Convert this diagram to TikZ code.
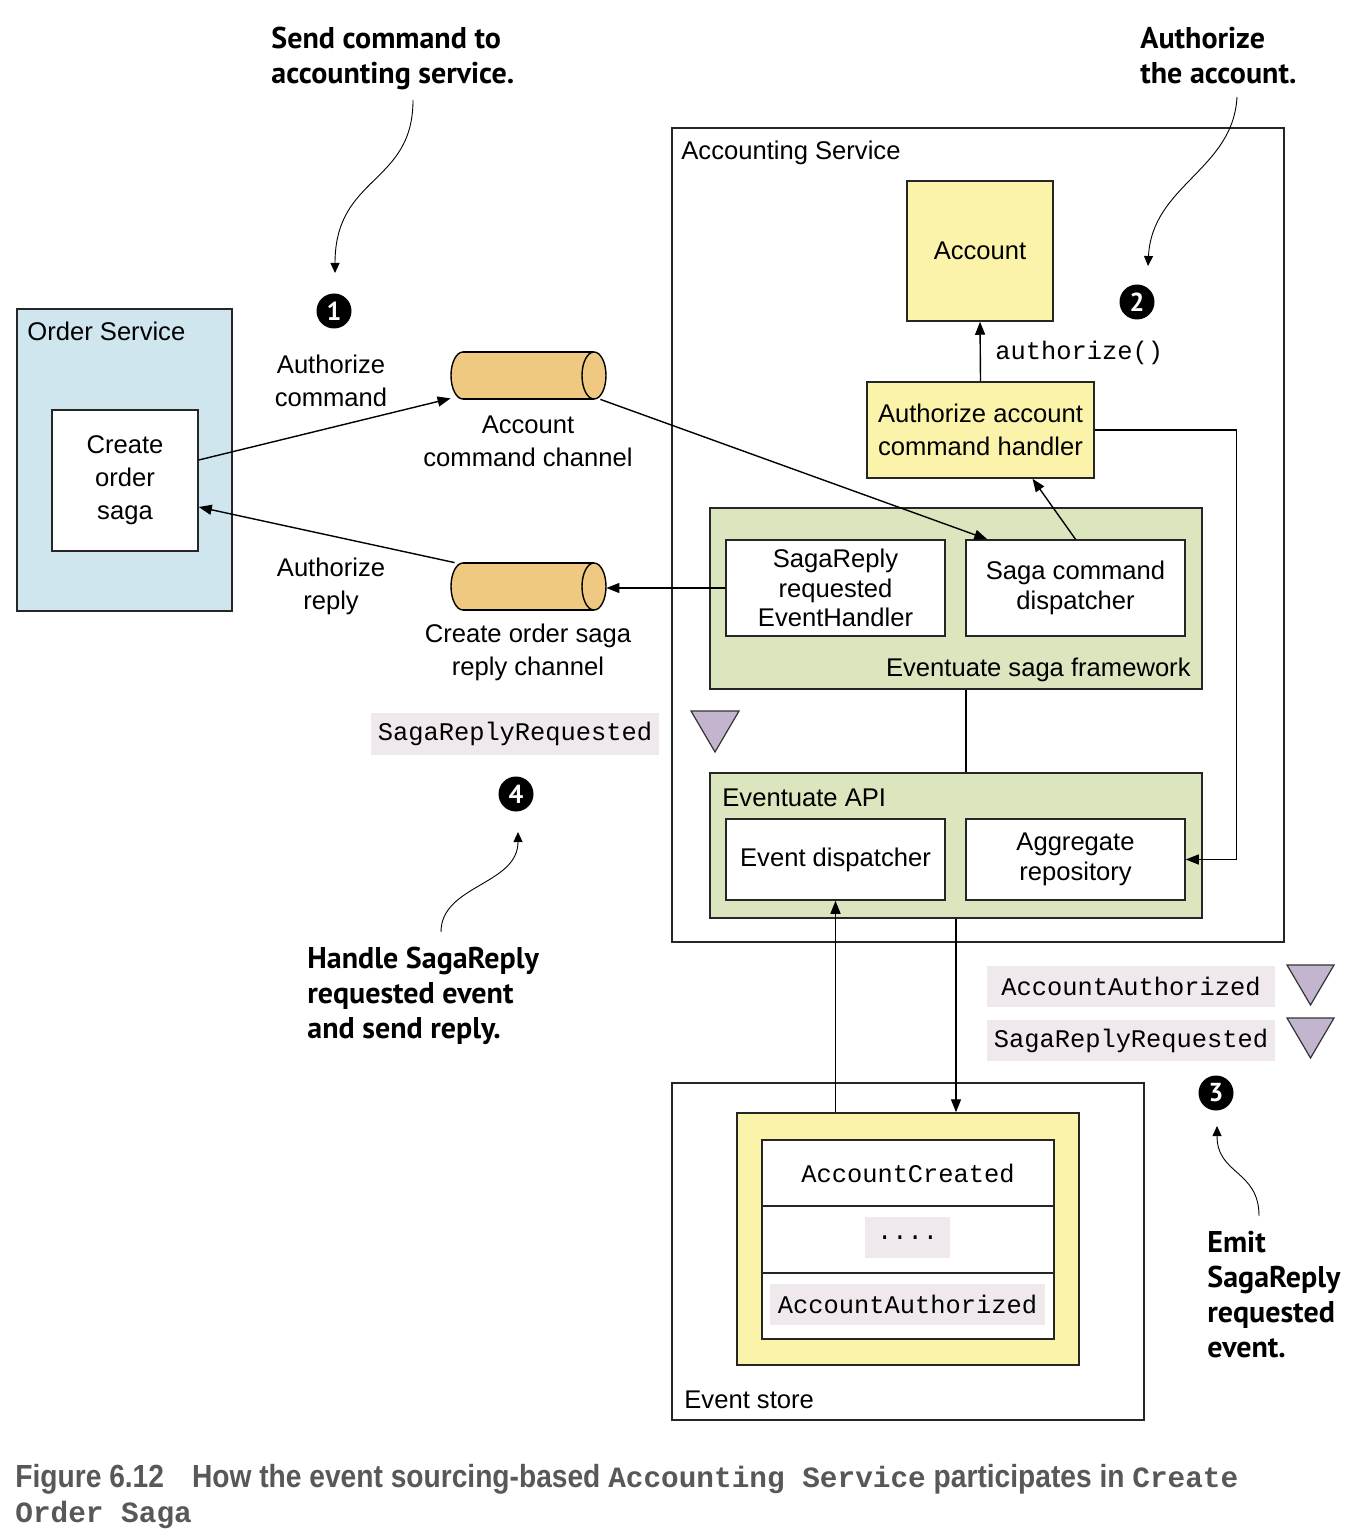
\documentclass[tikz,border=0pt]{standalone}
\usepackage{fontspec}
\setmainfont{Liberation Sans}
\setmonofont{Liberation Mono}
\newfontfamily\annfont{PT Sans}
\newfontfamily\capfont{Liberation Sans Bold}[FakeStretch=0.88]
\usetikzlibrary{arrows.meta,calc}
\definecolor{svcblue}{RGB}{207,230,239}
\definecolor{boxyellow}{RGB}{251,243,170}
\definecolor{fwgreen}{RGB}{219,229,190}
\definecolor{chanorange}{RGB}{239,200,130}
\definecolor{evgray}{RGB}{239,233,237}
\definecolor{evpurple}{RGB}{196,181,207}
\definecolor{capgray}{RGB}{88,88,88}
\begin{document}
\begin{tikzpicture}[x=0.5pt,y=-0.5pt,
  box/.style={draw=black!85, line width=0.75pt, align=center, inner sep=0pt,
    font=\fontsize{12.8}{16.5}\selectfont},
  lbl/.style={inner sep=0pt, align=center, font=\fontsize{12.8}{16.5}\selectfont},
  code/.style={inner sep=0pt, font=\ttfamily\fontsize{12.7}{14}\selectfont},
  evlbl/.style={fill=evgray, inner sep=0pt, minimum width=144pt, minimum height=21pt,
    font=\ttfamily\fontsize{12.7}{14}\selectfont},
  ann/.style={inner sep=0pt, align=left, font=\annfont\bfseries\fontsize{15}{17.5}\selectfont},
  num/.style={circle, fill=black, inner sep=0pt, minimum size=17.5pt, text=white,
    font=\annfont\bfseries\fontsize{13}{13}\selectfont},
  conn/.style={line width=0.7pt, -{Triangle[length=6.5pt,width=5pt]}},
  plain/.style={line width=0.7pt},
  annarrow/.style={line width=0.45pt, -{Triangle[length=5pt,width=4.5pt]}},
  tri/.style={draw=black!80, line width=0.6pt, fill=evpurple},
  chan/.style={minimum width=77.5pt, minimum height=23.5pt, inner sep=0pt}
]
\useasboundingbox (0,0) rectangle (1358,1540);

% ---------- Order Service ----------
\node[box, fill=svcblue, minimum width=107.5pt, minimum height=151pt] (ordersvc) at (124.5,460) {};
\node[lbl, anchor=base west] (ordersvclbl) at (27,341) {Order Service};
\node[box, fill=white, minimum width=73pt, minimum height=70.5pt] (saga) at (125,480.5) {Create\\order\\saga};

% ---------- Accounting Service ----------
\node[box, fill=white, minimum width=306pt, minimum height=407pt] (accsvc) at (978,535) {};
\node[lbl, anchor=base west] (accsvclbl) at (681,160) {Accounting Service};
\node[box, fill=boxyellow, minimum width=73pt, minimum height=70pt] (account) at (980,251) {Account};
\node[box, fill=boxyellow, minimum width=113.5pt, minimum height=48pt] (handler) at (980.5,430) {Authorize account\\command handler};
\node[box, fill=fwgreen, minimum width=246pt, minimum height=90.5pt] (fw) at (956,598.5) {};
\node[box, fill=white, minimum width=109.5pt, minimum height=48pt,
  font=\fontsize{12.8}{14.75}\selectfont] (replyh) at (835.5,588) {SagaReply\\requested\\EventHandler};
\node[box, fill=white, minimum width=109.5pt, minimum height=48pt,
  font=\fontsize{12.8}{15}\selectfont] (disp) at (1075.5,588) {Saga command\\dispatcher};
\node[lbl, anchor=base east] (fwlbl) at (1191,676) {Eventuate saga framework};
\node[box, fill=fwgreen, minimum width=246pt, minimum height=72.5pt] (api) at (956,845.5) {};
\node[lbl, anchor=base west] (apilbl) at (722,806) {Eventuate API};
\node[box, fill=white, minimum width=109.5pt, minimum height=40.5pt] (evdisp) at (835.5,859.5) {Event dispatcher};
\node[box, fill=white, minimum width=109.5pt, minimum height=40.5pt,
  font=\fontsize{12.8}{15}\selectfont] (agg) at (1075.5,859.5) {Aggregate\\repository};
\node[code, anchor=base west] (authlbl) at (995,359) {authorize()};

% ---------- Event store ----------
\node[box, fill=white, minimum width=236pt, minimum height=168.5pt] (store) at (908,1251.5) {};
\node[lbl, anchor=base west] (storelbl) at (684,1408) {Event store};
\node[box, fill=boxyellow, minimum width=171pt, minimum height=126pt] (yellow) at (908,1239) {};
\node[box, fill=white, minimum width=146pt, minimum height=33pt] (row1) at (908,1173) {};
\node[box, fill=white, minimum width=146pt, minimum height=33.5pt] (row2) at (908,1239.5) {};
\node[box, fill=white, minimum width=146pt, minimum height=33pt] (row3) at (908,1306) {};
\node[code] (ac) at (908,1173) {AccountCreated};
\node[evlbl, minimum width=42.5pt, minimum height=20.5pt] (dots) at (907.5,1237.5) {....};
\node[evlbl, minimum width=137.5pt, minimum height=20.5pt] (aa1) at (907.5,1304.5) {AccountAuthorized};

% ---------- Channels ----------
\node[chan] (cmdch) at (528.5,375.5) {};
\draw[plain, fill=chanorange] (463,375.5) ellipse[x radius=12, y radius=23.5];
\fill[chanorange] (463,352) rectangle (594,399);
\draw[plain] (463,352) -- (594,352) (463,399) -- (594,399);
\draw[plain, fill=chanorange] (594,375.5) ellipse[x radius=12, y radius=23.5];

\node[chan] (replych) at (528.5,586.5) {};
\draw[plain, fill=chanorange] (463,586.5) ellipse[x radius=12, y radius=23.5];
\fill[chanorange] (463,563) rectangle (594,610);
\draw[plain] (463,563) -- (594,563) (463,610) -- (594,610);
\draw[plain, fill=chanorange] (594,586.5) ellipse[x radius=12, y radius=23.5];

\node[lbl] (cmdchlbl) at (528,441) {Account\\command channel};
\node[lbl] (replychlbl) at (528,652) {Create order saga\\reply channel};
\node[lbl] (authcmd) at (331,381) {Authorize\\command};
\node[lbl] (authreply) at (331,586) {Authorize\\reply};

% ---------- Event labels and triangles ----------
\node[evlbl] (srr1) at (515,734) {SagaReplyRequested};
\node[evlbl, minimum height=20.5pt] (aa2) at (1131,986.5) {AccountAuthorized};
\node[evlbl, minimum height=20.5pt] (srr2) at (1131,1040.5) {SagaReplyRequested};
\draw[tri] (691,711) -- (739,711) -- (715,752) -- cycle;
\draw[tri] (1287,965) -- (1334,965) -- (1310.5,1005) -- cycle;
\draw[tri] (1287,1018) -- (1334,1018) -- (1310.5,1058) -- cycle;

% ---------- Numbers ----------
\node[num] (n1) at (334,311) {1};
\node[num] (n2) at (1137,302) {2};
\node[num] (n3) at (1216,1093) {3};
\node[num] (n4) at (516,794) {4};

% ---------- Connectors ----------
\draw[conn] ([yshift=10.25pt]saga.east) -- ([yshift=0.5pt]cmdch.south west);
\draw[conn] ([xshift=-3pt]cmdch.south east) -- ([xshift=11pt]disp.north west);
\draw[conn] (disp.north) -- ([xshift=26pt]handler.south);
\draw[conn] (handler.north) -- (account.south);
\draw[conn] (handler.east) -- ++(142,0) |- (agg.east);
\draw[conn] (replyh.west) -- (replyh.west -| replych.east);
\draw[conn] ([xshift=2pt]replych.north west) -- ([yshift=-13.25pt]saga.east);
\draw[plain] ([xshift=5pt]fw.south) -- ([xshift=5pt]api.north);
\draw[conn] (evdisp.south |- yellow.north) -- (evdisp.south);
\draw[conn] (api.south) -- (api.south |- yellow.north);

% ---------- Annotations ----------
\node[ann, anchor=north west] (ann1) at (271,27) {Send command to\\accounting service.};
\node[ann, anchor=north west] (ann2) at (1140,27) {Authorize\\the account.};
\node[ann, anchor=north west] (ann4) at (307,947) {Handle SagaReply\\requested event\\and send reply.};
\node[ann, anchor=north west] (ann3) at (1207,1231) {Emit\\SagaReply\\requested\\event.};
\coordinate (a1s) at (413,100);
\coordinate (a1e) at (335,273);
\coordinate (a2s) at (1237,97);
\coordinate (a2e) at (1148,266);
\coordinate (a4s) at (441,932);
\coordinate (a4e) at (518,832);
\coordinate (a3s) at (1259,1216);
\coordinate (a3e) at (1217,1126);
\draw[annarrow] (a1s) .. controls (413,185) and (335,175) .. (a1e);
\draw[annarrow] (a2s) .. controls (1233,170) and (1152,185) .. (a2e);
\draw[annarrow] (a4s) .. controls (441,885) and (518,885) .. (a4e);
\draw[annarrow] (a3s) .. controls (1259,1170) and (1217,1175) .. (a3e);

% ---------- Caption ----------
\node[inner sep=0pt, anchor=base west, text=capgray,
  font=\capfont\fontsize{16}{18}\selectfont] (cap1) at (15,1487)
  {Figure 6.12\hspace{14pt}How the event sourcing-based {\ttfamily\bfseries\fontsize{14.7}{17}\selectfont Accounting Service} participates in {\ttfamily\bfseries\fontsize{14.7}{17}\selectfont Create}};
\node[inner sep=0pt, anchor=base west, text=capgray,
  font=\ttfamily\bfseries\fontsize{14.7}{17}\selectfont] (cap2) at (15,1522) {Order Saga};
\end{tikzpicture}
\end{document}
